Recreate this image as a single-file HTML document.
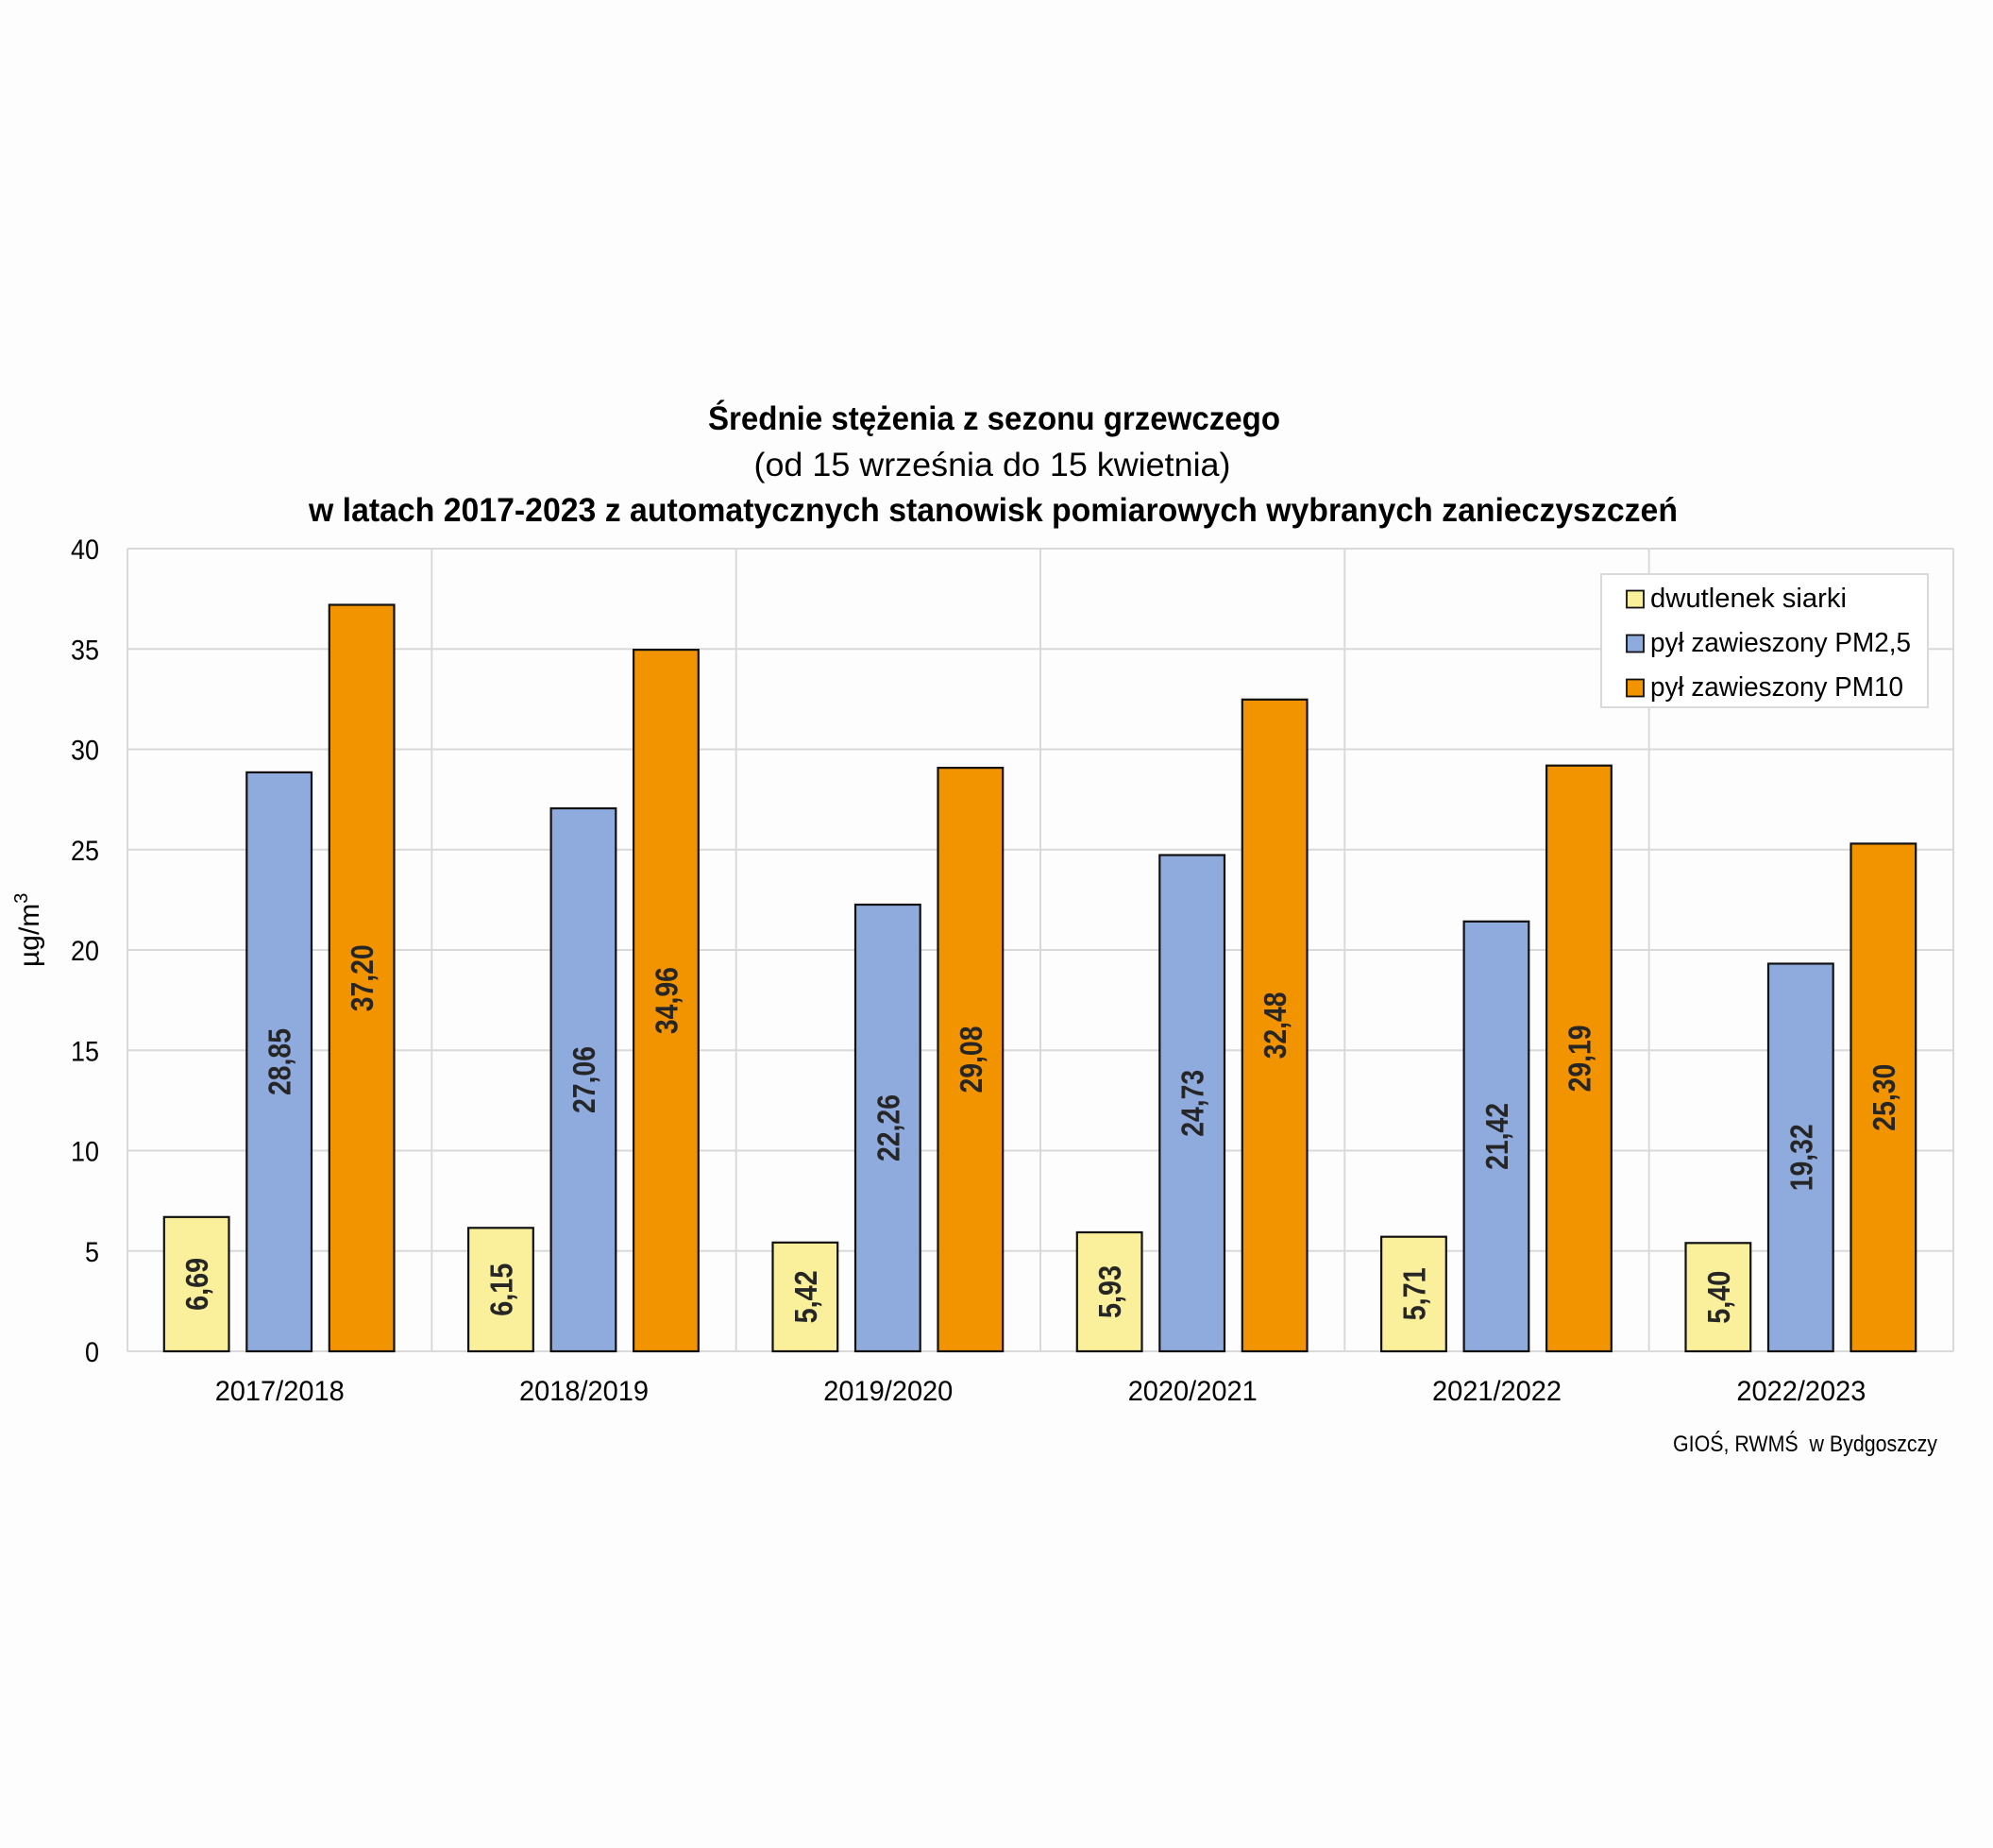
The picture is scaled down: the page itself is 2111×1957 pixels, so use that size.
<!DOCTYPE html>
<html>
<head>
<meta charset="utf-8">
<style>
  html, body { margin: 0; padding: 0; background: #fdfdfd; }
  svg { display: block; }
  text { font-family: "Liberation Sans", "DejaVu Sans", sans-serif; }
</style>
</head>
<body>
<svg width="2111" height="1957" viewBox="0 0 2111 1957" xmlns="http://www.w3.org/2000/svg">
  <rect x="0" y="0" width="2111" height="1957" fill="#fdfdfd"/>

  <!-- Title -->
  <text x="1053" y="455" font-size="35" font-weight="bold" text-anchor="middle" textLength="606" lengthAdjust="spacingAndGlyphs" fill="#000">Średnie stężenia z sezonu grzewczego</text>
  <text x="1051" y="504" font-size="35" text-anchor="middle" textLength="505" lengthAdjust="spacingAndGlyphs" fill="#000">(od 15 września do 15 kwietnia)</text>
  <text x="1052" y="552" font-size="35" font-weight="bold" text-anchor="middle" textLength="1450" lengthAdjust="spacingAndGlyphs" fill="#000">w latach 2017-2023 z automatycznych stanowisk pomiarowych wybranych zanieczyszczeń</text>

  <!-- Plot area gridlines -->
  <g stroke="#d9d9d9" stroke-width="2" fill="none">
    <line x1="135" y1="581" x2="2069" y2="581"/>
    <line x1="135" y1="687.25" x2="2069" y2="687.25"/>
    <line x1="135" y1="793.5" x2="2069" y2="793.5"/>
    <line x1="135" y1="899.75" x2="2069" y2="899.75"/>
    <line x1="135" y1="1006" x2="2069" y2="1006"/>
    <line x1="135" y1="1112.25" x2="2069" y2="1112.25"/>
    <line x1="135" y1="1218.5" x2="2069" y2="1218.5"/>
    <line x1="135" y1="1324.75" x2="2069" y2="1324.75"/>
    <line x1="135" y1="1431" x2="2069" y2="1431"/>
    <line x1="135" y1="581" x2="135" y2="1431"/>
    <line x1="457.3" y1="581" x2="457.3" y2="1431"/>
    <line x1="779.7" y1="581" x2="779.7" y2="1431"/>
    <line x1="1102" y1="581" x2="1102" y2="1431"/>
    <line x1="1424.3" y1="581" x2="1424.3" y2="1431"/>
    <line x1="1746.7" y1="581" x2="1746.7" y2="1431"/>
    <line x1="2069" y1="581" x2="2069" y2="1431"/>
  </g>

  <!-- Y tick labels -->
  <g font-size="30" fill="#000" text-anchor="end">
    <text x="105" y="592" textLength="30" lengthAdjust="spacingAndGlyphs">40</text>
    <text x="105" y="698.25" textLength="30" lengthAdjust="spacingAndGlyphs">35</text>
    <text x="105" y="804.5" textLength="30" lengthAdjust="spacingAndGlyphs">30</text>
    <text x="105" y="910.75" textLength="30" lengthAdjust="spacingAndGlyphs">25</text>
    <text x="105" y="1017" textLength="30" lengthAdjust="spacingAndGlyphs">20</text>
    <text x="105" y="1123.25" textLength="30" lengthAdjust="spacingAndGlyphs">15</text>
    <text x="105" y="1229.5" textLength="30" lengthAdjust="spacingAndGlyphs">10</text>
    <text x="105" y="1335.75" textLength="15" lengthAdjust="spacingAndGlyphs">5</text>
    <text x="105" y="1442" textLength="15" lengthAdjust="spacingAndGlyphs">0</text>
  </g>

  <!-- Y axis title -->
  <text transform="translate(41,1024) rotate(-90)" font-size="30" fill="#000">µg/m<tspan font-size="20" dy="-12">3</tspan></text>

  <!-- Bars -->
  <g stroke="#111" stroke-width="2.2">
    <rect x="173.8" y="1288.8" width="68.7" height="142.2" fill="#faef9b"/>
    <rect x="261.3" y="817.9" width="68.7" height="613.1" fill="#8faadc"/>
    <rect x="348.8" y="640.5" width="68.7" height="790.5" fill="#f29400"/>

    <rect x="496.1" y="1300.3" width="68.7" height="130.7" fill="#faef9b"/>
    <rect x="583.6" y="856" width="68.7" height="575" fill="#8faadc"/>
    <rect x="671.1" y="688.1" width="68.7" height="742.9" fill="#f29400"/>

    <rect x="818.5" y="1315.8" width="68.7" height="115.2" fill="#faef9b"/>
    <rect x="906" y="958" width="68.7" height="473" fill="#8faadc"/>
    <rect x="993.5" y="813.1" width="68.7" height="617.9" fill="#f29400"/>

    <rect x="1140.8" y="1305" width="68.7" height="126" fill="#faef9b"/>
    <rect x="1228.3" y="905.5" width="68.7" height="525.5" fill="#8faadc"/>
    <rect x="1315.8" y="740.8" width="68.7" height="690.2" fill="#f29400"/>

    <rect x="1463.1" y="1309.7" width="68.7" height="121.3" fill="#faef9b"/>
    <rect x="1550.6" y="975.8" width="68.7" height="455.2" fill="#8faadc"/>
    <rect x="1638.1" y="810.7" width="68.7" height="620.3" fill="#f29400"/>

    <rect x="1785.5" y="1316.3" width="68.7" height="114.7" fill="#faef9b"/>
    <rect x="1873" y="1020.5" width="68.7" height="410.5" fill="#8faadc"/>
    <rect x="1960.5" y="893.4" width="68.7" height="537.6" fill="#f29400"/>
  </g>

  <!-- Data labels -->
  <g font-size="33" font-weight="bold" fill="#262626" text-anchor="middle">
    <text transform="translate(208.2,1359.9) rotate(-90)" dy="12" textLength="56" lengthAdjust="spacingAndGlyphs">6,69</text>
    <text transform="translate(295.7,1124.5) rotate(-90)" dy="12" textLength="71" lengthAdjust="spacingAndGlyphs">28,85</text>
    <text transform="translate(383.2,1035.8) rotate(-90)" dy="12" textLength="71" lengthAdjust="spacingAndGlyphs">37,20</text>

    <text transform="translate(530.5,1365.7) rotate(-90)" dy="12" textLength="56" lengthAdjust="spacingAndGlyphs">6,15</text>
    <text transform="translate(618,1143.5) rotate(-90)" dy="12" textLength="71" lengthAdjust="spacingAndGlyphs">27,06</text>
    <text transform="translate(705.5,1059.6) rotate(-90)" dy="12" textLength="71" lengthAdjust="spacingAndGlyphs">34,96</text>

    <text transform="translate(852.9,1373.4) rotate(-90)" dy="12" textLength="56" lengthAdjust="spacingAndGlyphs">5,42</text>
    <text transform="translate(940.4,1194.5) rotate(-90)" dy="12" textLength="71" lengthAdjust="spacingAndGlyphs">22,26</text>
    <text transform="translate(1027.9,1122) rotate(-90)" dy="12" textLength="71" lengthAdjust="spacingAndGlyphs">29,08</text>

    <text transform="translate(1175.2,1368) rotate(-90)" dy="12" textLength="56" lengthAdjust="spacingAndGlyphs">5,93</text>
    <text transform="translate(1262.7,1168.3) rotate(-90)" dy="12" textLength="71" lengthAdjust="spacingAndGlyphs">24,73</text>
    <text transform="translate(1350.2,1085.9) rotate(-90)" dy="12" textLength="71" lengthAdjust="spacingAndGlyphs">32,48</text>

    <text transform="translate(1497.5,1370.4) rotate(-90)" dy="12" textLength="56" lengthAdjust="spacingAndGlyphs">5,71</text>
    <text transform="translate(1585,1203.4) rotate(-90)" dy="12" textLength="71" lengthAdjust="spacingAndGlyphs">21,42</text>
    <text transform="translate(1672.5,1120.9) rotate(-90)" dy="12" textLength="71" lengthAdjust="spacingAndGlyphs">29,19</text>

    <text transform="translate(1819.9,1373.7) rotate(-90)" dy="12" textLength="56" lengthAdjust="spacingAndGlyphs">5,40</text>
    <text transform="translate(1907.4,1225.8) rotate(-90)" dy="12" textLength="71" lengthAdjust="spacingAndGlyphs">19,32</text>
    <text transform="translate(1994.9,1162.2) rotate(-90)" dy="12" textLength="71" lengthAdjust="spacingAndGlyphs">25,30</text>
  </g>

  <!-- X category labels -->
  <g font-size="30" fill="#000" text-anchor="middle">
    <text x="296.2" y="1483" textLength="137" lengthAdjust="spacingAndGlyphs">2017/2018</text>
    <text x="618.5" y="1483" textLength="137" lengthAdjust="spacingAndGlyphs">2018/2019</text>
    <text x="940.8" y="1483" textLength="137" lengthAdjust="spacingAndGlyphs">2019/2020</text>
    <text x="1263.2" y="1483" textLength="137" lengthAdjust="spacingAndGlyphs">2020/2021</text>
    <text x="1585.5" y="1483" textLength="137" lengthAdjust="spacingAndGlyphs">2021/2022</text>
    <text x="1907.9" y="1483" textLength="137" lengthAdjust="spacingAndGlyphs">2022/2023</text>
  </g>

  <!-- Source -->
  <text x="1772" y="1537" font-size="24" fill="#000" textLength="280" lengthAdjust="spacingAndGlyphs" style="white-space:pre">GIOŚ, RWMŚ  w Bydgoszczy</text>

  <!-- Legend -->
  <rect x="1696" y="608" width="346" height="141" fill="#ffffff" stroke="#d9d9d9" stroke-width="2"/>
  <g stroke="#111" stroke-width="1.8">
    <rect x="1723" y="625.5" width="18" height="18" fill="#faef9b"/>
    <rect x="1723" y="672.5" width="18" height="18" fill="#8faadc"/>
    <rect x="1723" y="719.5" width="18" height="18" fill="#f29400"/>
  </g>
  <g font-size="29" fill="#000">
    <text x="1748" y="643" textLength="208" lengthAdjust="spacingAndGlyphs">dwutlenek siarki</text>
    <text x="1748" y="690" textLength="276" lengthAdjust="spacingAndGlyphs">pył zawieszony PM2,5</text>
    <text x="1748" y="737" textLength="268" lengthAdjust="spacingAndGlyphs">pył zawieszony PM10</text>
  </g>
</svg>
</body>
</html>
